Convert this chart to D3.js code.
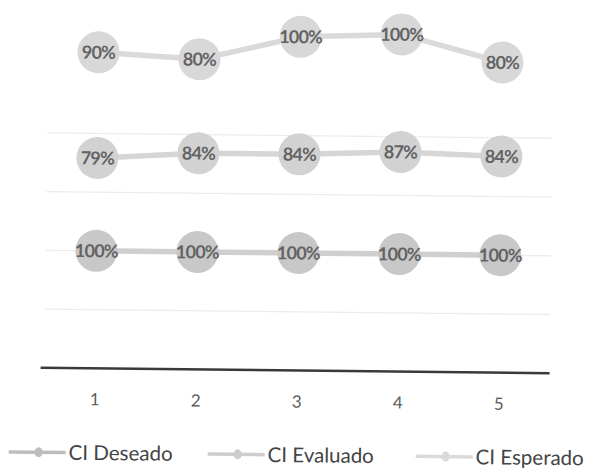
<!DOCTYPE html>
<html>
<head>
<meta charset="utf-8">
<script src="https://cdn.jsdelivr.net/npm/d3@7"></script>
<style>
  html, body { margin: 0; padding: 0; background: #fff; }
  svg { display: block; }
</style>
</head>
<body>
<svg id="chart" width="595" height="472"></svg>
<script>
// Stacked line chart: each series is drawn on top of the previous one
const categories = ["1", "2", "3", "4", "5"];
const seriesNames = ["CI Deseado", "CI Evaluado", "CI Esperado"];
const deseado  = [1.00, 1.00, 1.00, 1.00, 1.00];
const evaluado = [0.79, 0.84, 0.84, 0.87, 0.84];
const esperado = [0.90, 0.80, 1.00, 1.00, 0.80];
const gridTicks = [0, 0.5, 1, 1.5, 2];

const seriesValues = [deseado, evaluado, esperado];
const rows = categories.map((c, i) => {
  const r = { cat: c };
  seriesNames.forEach((s, k) => { r[s] = seriesValues[k][i]; });
  return r;
});
const stacked = d3.stack().keys(seriesNames)(rows);

const lineColor   = ["#cfcfcf", "#d6d6d6", "#dadada"];
const markerColor = ["#c8c8c8", "#d2d2d2", "#d8d8d8"];
const legendLine  = ["#bdbdbd", "#cdcdcd", "#dadada"];

const svg = d3.select("#chart");
const plot = { left: 46, right: 551, top: 18, bottom: 370.5 };

const x = d3.scaleBand().domain(categories).range([plot.left, plot.right]);
const y = d3.scaleLinear().domain([0, 3]).range([plot.bottom, plot.top]);
const cx = d => x(d) + x.bandwidth() / 2;

// whole chart sits at a slight angle
const g = svg.append("g").attr("transform", "rotate(0.62 297 240)");

// horizontal gridlines
g.append("g")
  .selectAll("line")
  .data(gridTicks.filter(t => t > 0))
  .join("line")
  .attr("x1", plot.left).attr("x2", plot.right)
  .attr("y1", d => y(d)).attr("y2", d => y(d))
  .attr("stroke", "#ececec").attr("stroke-width", 1.3);

// category axis
const xAxis = g.append("g")
  .attr("transform", `translate(0,${y(0)})`)
  .call(d3.axisBottom(x).tickSize(0).tickPadding(25));
xAxis.select(".domain")
  .attr("stroke", "#3a3a3a").attr("stroke-width", 2.4)
  .attr("d", `M${plot.left - 4},0H${plot.right}`);
xAxis.selectAll("text")
  .attr("font-family", "Lato, 'Open Sans', sans-serif")
  .attr("font-size", 17).attr("fill", "#5a5a5a");

const line = d3.line()
  .x(d => cx(d.data.cat))
  .y(d => y(d[1]));

const series = g.append("g")
  .selectAll("g")
  .data(stacked)
  .join("g");

series.append("path")
  .attr("d", d => line(d))
  .attr("fill", "none")
  .attr("stroke", (d, i) => lineColor[i])
  .attr("stroke-width", 5.5);

series.selectAll("circle")
  .data((d, i) => d.map(p => ({ p, i })))
  .join("circle")
  .attr("cx", d => cx(d.p.data.cat))
  .attr("cy", d => y(d.p[1]))
  .attr("r", 21)
  .attr("fill", d => markerColor[d.i]);

series.selectAll("text")
  .data((d, i) => d.map(p => ({ p, key: seriesNames[i] })))
  .join("text")
  .attr("x", d => cx(d.p.data.cat))
  .attr("y", d => y(d.p[1]))
  .attr("dy", "0.36em")
  .attr("text-anchor", "middle")
  .attr("font-family", "Lato, 'Open Sans', sans-serif")
  .attr("font-weight", "bold")
  .attr("font-size", 18)
  .attr("letter-spacing", -0.8)
  .attr("fill", "#636363")
  .text(d => d3.format(".0%")(d.p.data[d.key]));

// legend
const legendX = [11, 210, 418];
const legend = g.append("g")
  .selectAll("g")
  .data(seriesNames)
  .join("g")
  .attr("transform", (d, i) => `translate(${legendX[i]},455)`);
legend.append("line")
  .attr("x1", 0).attr("x2", 57).attr("y1", 0).attr("y2", 0)
  .attr("stroke", (d, i) => legendLine[i]).attr("stroke-width", 3.5);
legend.append("ellipse")
  .attr("cx", 30).attr("cy", 0).attr("rx", 4).attr("ry", 5)
  .attr("fill", (d, i) => legendLine[i]);
legend.append("text")
  .attr("x", 60).attr("y", 0).attr("dy", "0.35em")
  .attr("font-family", "Lato, 'Open Sans', sans-serif")
  .attr("font-size", 20.5).attr("fill", "#444")
  .text(d => d);
</script>
</body>
</html>
